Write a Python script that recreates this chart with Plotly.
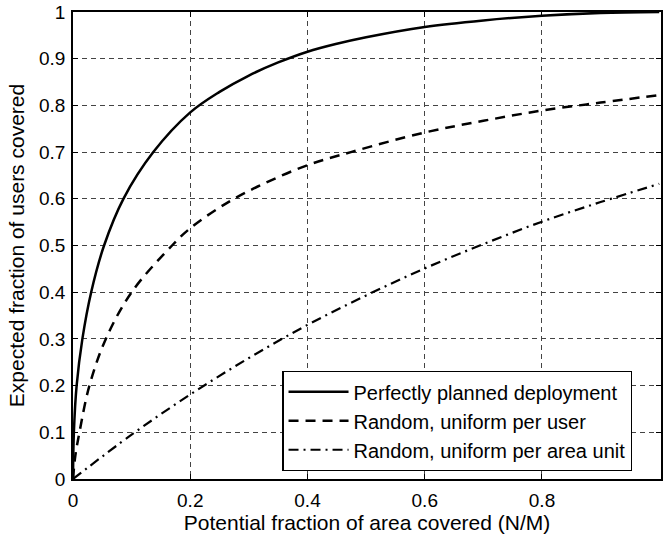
import plotly.graph_objects as go

# Perfectly planned deployment
planned_x = [0, 0.0015, 0.0062, 0.016, 0.031, 0.053, 0.086, 0.137, 0.2, 0.25, 0.3, 0.35, 0.4, 0.45, 0.5, 0.6, 0.7, 0.8, 0.9, 1.0]
planned_y = [0, 0.10, 0.20, 0.30, 0.40, 0.50, 0.60, 0.70, 0.785, 0.829, 0.864, 0.892, 0.915, 0.932, 0.946, 0.968, 0.982, 0.992, 0.998, 1.0]

# Random, uniform per user
user_x = [0, 0.004, 0.011, 0.028, 0.056, 0.1, 0.169, 0.2, 0.265, 0.33, 0.4, 0.474, 0.6, 0.7, 0.8, 0.9, 1.0]
user_y = [0, 0.05, 0.10, 0.20, 0.30, 0.40, 0.50, 0.537, 0.593, 0.635, 0.672, 0.70, 0.742, 0.767, 0.789, 0.806, 0.822]

# Random, uniform per area unit
area_x = [0, 0.1, 0.2, 0.3, 0.4, 0.5, 0.6, 0.7, 0.8, 0.9, 1.0]
area_y = [0, 0.095, 0.181, 0.259, 0.33, 0.393, 0.451, 0.503, 0.551, 0.593, 0.632]

names = ["Perfectly planned deployment", "Random, uniform per user", "Random, uniform per area unit"]

x_ticks = [0, 0.2, 0.4, 0.6, 0.8]
x_tick_text = ["0", "0.2", "0.4", "0.6", "0.8"]
y_ticks = [0, 0.1, 0.2, 0.3, 0.4, 0.5, 0.6, 0.7, 0.8, 0.9, 1.0]
y_tick_text = ["0", "0.1", "0.2", "0.3", "0.4", "0.5", "0.6", "0.7", "0.8", "0.9", "1"]

FONT = "Liberation Sans, Arial, sans-serif"

fig = go.Figure()
fig.add_trace(go.Scatter(x=planned_x, y=planned_y, mode="lines", name=names[0],
                         line=dict(color="black", width=2.5, shape="spline", smoothing=1.0)))
fig.add_trace(go.Scatter(x=user_x, y=user_y, mode="lines", name=names[1],
                         line=dict(color="black", width=2.5, dash="10px,7px", shape="spline", smoothing=1.0)))
fig.add_trace(go.Scatter(x=area_x, y=area_y, mode="lines", name=names[2],
                         line=dict(color="black", width=2.2, dash="10px,5px,2px,5px", shape="spline", smoothing=1.0)))

axis_common = dict(
    showline=True, linecolor="black", linewidth=1.8, mirror="allticks",
    ticks="inside", ticklen=5, tickcolor="black", tickwidth=1,
    showgrid=True, gridcolor="#444444", gridwidth=1, griddash="5px,4px",
    zeroline=False, tickfont=dict(family=FONT, size=19, color="black"),
)

fig.update_xaxes(range=[0, 1.003], tickvals=x_ticks, ticktext=x_tick_text,
                 ticklabelstandoff=3,
                 title=dict(text="Potential fraction of area covered (N/M)", standoff=0,
                            font=dict(family=FONT, size=21, color="black")),
                 **axis_common)
fig.update_yaxes(range=[0, 1], tickvals=y_ticks, ticktext=y_tick_text,
                 ticklabelstandoff=2,
                 title=dict(text="Expected fraction of users covered", standoff=9,
                            font=dict(family=FONT, size=21, color="black")),
                 **axis_common)

fig.update_layout(
    width=663, height=535,
    margin=dict(l=73, r=0, t=12, b=56),
    plot_bgcolor="white", paper_bgcolor="white",
    font=dict(family=FONT, size=19, color="black"),
    legend=dict(x=0.356, y=0.017, xanchor="left", yanchor="bottom",
                bgcolor="white", bordercolor="black", borderwidth=1.2,
                font=dict(family=FONT, size=20, color="black"),
                tracegroupgap=0, itemwidth=60),
    showlegend=True,
)

fig.write_html("out.html")
